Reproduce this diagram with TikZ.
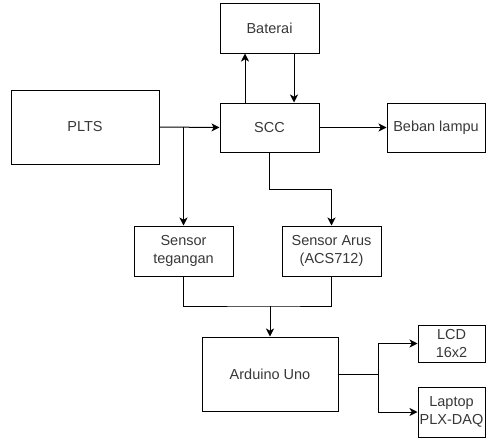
\documentclass[tikz,border=0pt]{standalone}
\usepackage{fontspec}
\setmainfont{Liberation Sans}
\usetikzlibrary{arrows.meta}
\begin{document}
\begin{tikzpicture}[x=1pt,y=-1pt,
  blk/.style={draw,line width=1pt,rectangle,inner sep=0pt,align=center,font=\fontsize{14.5}{18.5}\selectfont,text=black!78},
  arr/.style={line width=1pt,-{Stealth[length=8pt,width=8pt,inset=2.2pt]}},
  ln/.style={line width=1pt}]
\useasboundingbox (0,0) rectangle (486,439);
\node[blk,minimum width=99pt,minimum height=50pt] (bat) at (269.5,28) {Baterai};
\node[blk,minimum width=148pt,minimum height=74pt] (plts) at (85,127) {PLTS};
\node[blk,minimum width=99pt,minimum height=49pt] (scc) at (269.5,127.5) {SCC};
\node[blk,minimum width=98pt,minimum height=49pt] (beb) at (436,127.5) {Beban lampu};
\node[blk,minimum width=99pt,minimum height=50pt] (sv) at (183.5,251) {Sensor\\tegangan};
\node[blk,minimum width=99pt,minimum height=50pt] (sa) at (331.5,251) {Sensor Arus\\(ACS712)};
\node[blk,minimum width=136pt,minimum height=74pt] (ard) at (270,374) {Arduino Uno};
\node[blk,minimum width=67pt,minimum height=37pt] (lcd) at (451.5,343.5) {LCD\\16x2};
\node[blk,minimum width=67pt,minimum height=50pt] (lap) at (451.5,412) {Laptop\\PLX-DAQ};
\coordinate (j1) at (183.5,127);
\coordinate (j2) at (270,306);
\coordinate (j3) at (378,374);
\draw[arr] ([xshift=-24.5pt]scc.north) -- ([xshift=-24.5pt]bat.south);
\draw[arr] ([xshift=24.5pt]bat.south) -- ([xshift=24.5pt]scc.north);
\draw[arr] (plts.east) -- (scc.west);
\draw[arr] (j1) -- (sv.north);
\draw[arr] (scc.east) -- (beb.west);
\draw[arr] (scc.south) -- ++(0,37) -| (sa.north);
\draw[ln] (sv.south) |- (j2) -| (sa.south);
\draw[arr] (j2) -- (ard.north);
\draw[ln] (ard.east) -- (j3);
\draw[arr] (j3) |- (lcd.west);
\draw[arr] (j3) |- (lap.west);
\end{tikzpicture}
\end{document}
